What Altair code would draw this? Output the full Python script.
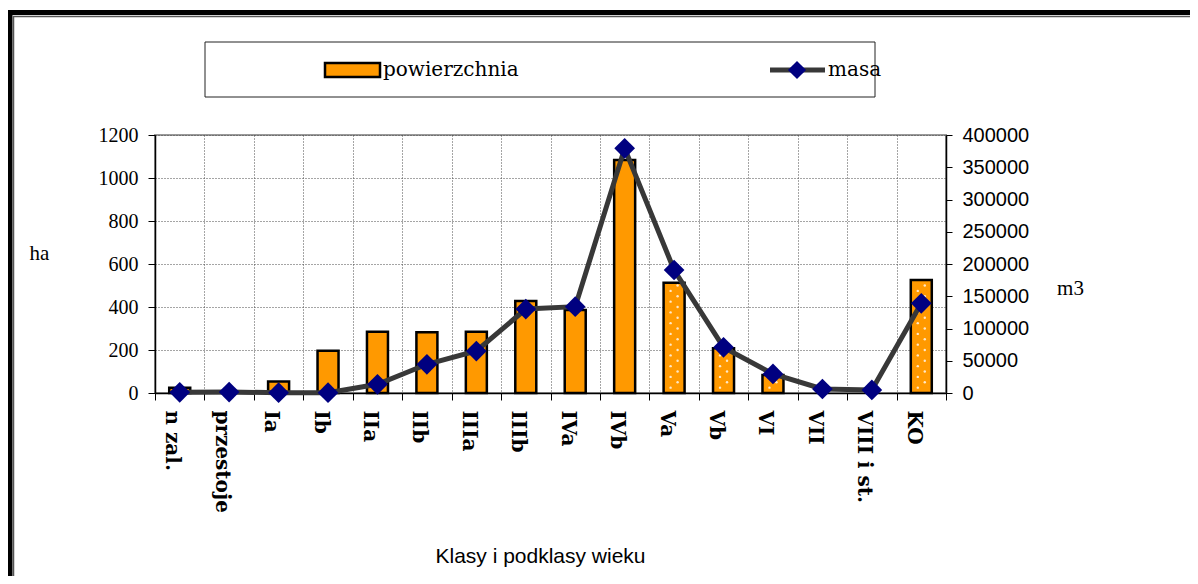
import altair as alt
import pandas as pd
import numpy as np

# ---- data ----
categories = ["n zal.", "przestoje", "Ia", "Ib", "IIa", "IIb", "IIIa", "IIIb",
              "IVa", "IVb", "Va", "Vb", "VI", "VII", "VIII i st.", "KO"]
powierzchnia_ha = [25, 0, 53, 197, 285, 282, 285, 428, 386, 1084, 513, 208, 84, 0, 0, 526]
masa_m3 = [1000, 1500, 500, 500, 13500, 44500, 65100, 130200, 133800, 379300,
           190700, 70800, 29500, 6200, 4700, 139000]
dotted = [False] * 10 + [True] * 6

left_ticks = [0, 200, 400, 600, 800, 1000, 1200]
right_ticks = [0, 50000, 100000, 150000, 200000, 250000, 300000, 350000, 400000]

df = pd.DataFrame({"kat": categories, "pow": powierzchnia_ha, "masa": masa_m3, "dot": dotted})

# white dot pattern inside the dotted bars (derived from the bar values)
rows_a, rows_b = [], []
for c, v, d in zip(categories, powierzchnia_ha, dotted):
    if d and v > 0:
        for y in np.arange(25, v - 12, 50):
            rows_a.append({"kat": c, "y": float(y)})
        for y in np.arange(50, v - 12, 50):
            rows_b.append({"kat": c, "y": float(y)})
dots_a = pd.DataFrame(rows_a)
dots_b = pd.DataFrame(rows_b)

W, H = 791, 258
SERIF = "Liberation Serif"
WIDE_SERIF = "DejaVu Serif"
SANS = "Liberation Sans"
GRID = "#4a4a4a"

x_enc = alt.X("kat:N", sort=categories,
              scale=alt.Scale(domain=categories, paddingInner=0, paddingOuter=0),
              axis=alt.Axis(title="Klasy i podklasy wieku", labelAngle=90, labelAlign="left",
                            labelBaseline="top", labelOffset=2, labelPadding=10,
                            labelFont=WIDE_SERIF, labelFontWeight="bold", labelFontSize=20,
                            labelColor="black", tickBand="extent", tickSize=7, tickColor="black",
                            domainColor="black", domainWidth=1.5, grid=True, gridColor=GRID,
                            gridDash=[1, 2], gridWidth=1,
                            titleFont=SANS, titleFontSize=21, titleFontWeight="normal",
                            titleColor="black", titleX=385, titleY=163, titleAlign="center",
                            titleBaseline="middle", titleAngle=0))

y_left = alt.Y("pow:Q", scale=alt.Scale(domain=[0, 1200], nice=False),
               axis=alt.Axis(title="ha", values=left_ticks, format="d", orient="left",
                             labelFont=SERIF, labelFontSize=20, labelColor="black",
                             tickSize=7, tickColor="black", labelPadding=10,
                             domainColor="black", domainWidth=1.5, grid=True,
                             gridColor=GRID, gridDash=[1, 2], gridWidth=1,
                             titleFont=SERIF, titleFontSize=21, titleFontWeight="normal",
                             titleColor="black", titleAngle=0, titleX=-116, titleY=118,
                             titleAlign="center", titleBaseline="middle"))

bars = alt.Chart(df).transform_filter("datum.pow > 0").mark_bar(
    size=21, color="#FF9900", stroke="black", strokeWidth=2.5
).encode(x=x_enc, y=y_left)

dot_style = dict(filled=True, size=6, color="#FFE8C8", opacity=1)
dots1 = alt.Chart(dots_a).mark_circle(xOffset=-3.5, **dot_style).encode(
    x=alt.X("kat:N", sort=categories), y=alt.Y("y:Q"))
dots2 = alt.Chart(dots_b).mark_circle(xOffset=3.5, **dot_style).encode(
    x=alt.X("kat:N", sort=categories), y=alt.Y("y:Q"))

left = alt.layer(bars, dots1, dots2)

y_right = alt.Y("masa:Q", scale=alt.Scale(domain=[0, 400000], nice=False),
                axis=alt.Axis(title="m3", values=right_ticks, format="d", orient="right",
                              labelFont=SANS, labelFontSize=20, labelColor="black",
                              tickSize=6, tickColor="black", labelPadding=10,
                              domainColor="black", domainWidth=1.5, grid=False,
                              titleFont=SERIF, titleFontSize=21, titleFontWeight="normal",
                              titleColor="black", titleAngle=0, titleX=124, titleY=153,
                              titleAlign="center", titleBaseline="middle"))

line = alt.Chart(df).mark_line(color="#383838", strokeWidth=5).encode(
    x=alt.X("kat:N", sort=categories), y=y_right)
pts = alt.Chart(df).mark_point(shape="diamond", filled=True, size=430, color="#000080",
                               opacity=1).encode(x=alt.X("kat:N", sort=categories), y=y_right)
right = alt.layer(line, pts)

# ---- decorations: legend box and outer frame ----
one = pd.DataFrame({"a": [0]})
legend_box = alt.Chart(one).mark_rect(fill="white", stroke="#222", strokeWidth=1).encode(
    x=alt.value(50), x2=alt.value(720), y=alt.value(-93), y2=alt.value(-38))
leg_bar = alt.Chart(one).mark_rect(fill="#FF9900", stroke="black", strokeWidth=2.5).encode(
    x=alt.value(170), x2=alt.value(225), y=alt.value(-72), y2=alt.value(-58))
leg_bar_txt = alt.Chart(one).mark_text(text="powierzchnia", font=WIDE_SERIF, fontSize=20,
                                       align="left", baseline="middle", color="black").encode(
    x=alt.value(228), y=alt.value(-65))
leg_line = alt.Chart(one).mark_rule(color="#383838", strokeWidth=5).encode(
    x=alt.value(615), x2=alt.value(670), y=alt.value(-65))
leg_pt = alt.Chart(one).mark_point(shape="diamond", filled=True, size=330, color="#000080",
                                   opacity=1).encode(x=alt.value(642), y=alt.value(-65))
leg_line_txt = alt.Chart(one).mark_text(text="masa", font=WIDE_SERIF, fontSize=20,
                                        align="left", baseline="middle", color="black").encode(
    x=alt.value(673), y=alt.value(-65))
frame_outer = alt.Chart(one).mark_rect(fillOpacity=0, stroke="black", strokeWidth=5).encode(
    x=alt.value(-145), x2=alt.value(1060), y=alt.value(-122.5), y2=alt.value(480))
frame_inner = alt.Chart(one).mark_rect(fillOpacity=0, stroke="#555", strokeWidth=1.5).encode(
    x=alt.value(-141.5), x2=alt.value(1060), y=alt.value(-118.5), y2=alt.value(480))

deco = alt.layer(frame_outer, frame_inner, legend_box, leg_bar, leg_bar_txt,
                 leg_line, leg_pt, leg_line_txt)

chart = alt.layer(left, right, deco).resolve_scale(y="independent").properties(
    width=W, height=H,
    autosize=alt.AutoSizeParams(type="none"),
    padding={"left": 147, "top": 127, "right": 244, "bottom": 183},
    background="white",
).configure_view(stroke="#999", strokeWidth=2)

chart.save("out.html", embed_options={"renderer": "svg", "actions": False})
